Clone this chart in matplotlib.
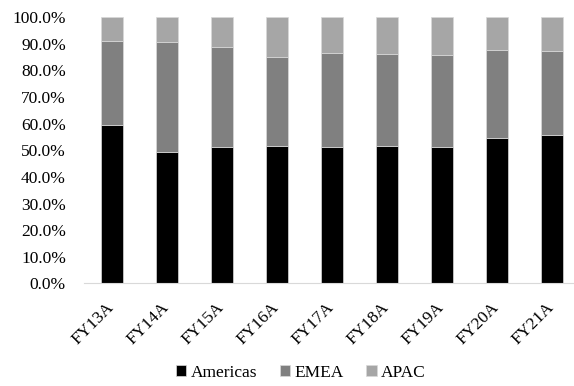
import matplotlib.pyplot as plt
import matplotlib.transforms as mtransforms
import numpy as np
from matplotlib.ticker import PercentFormatter

years = ['FY13A', 'FY14A', 'FY15A', 'FY16A', 'FY17A', 'FY18A', 'FY19A', 'FY20A', 'FY21A']
americas = [59.5, 49.5, 51.4, 51.6, 51.1, 51.6, 51.4, 54.7, 55.9]
emea = [31.6, 41.3, 37.3, 33.6, 35.4, 34.7, 34.4, 33.1, 31.5]
apac = [8.9, 9.2, 11.3, 14.8, 13.5, 13.7, 14.2, 12.2, 12.6]

plt.rcParams['font.family'] = 'Liberation Serif'
plt.rcParams['font.size'] = 12.5

fig = plt.figure(figsize=(5.74, 3.86), dpi=100)
ax = fig.add_axes([84 / 574, 1 - 283.3 / 386, 490 / 574, 266 / 386])

x = np.arange(len(years))
a = np.array(americas)
e = np.array(emea)
p = np.array(apac)
w = 0.4
ax.bar(x, a, w, color='#000000', label='Americas', edgecolor='#d9d9d9', linewidth=0.5)
ax.bar(x, e, w, bottom=a, color='#808080', label='EMEA', edgecolor='#d9d9d9', linewidth=0.5)
ax.bar(x, p, w, bottom=a + e, color='#a6a6a6', label='APAC', edgecolor='#d9d9d9', linewidth=0.5)

ax.set_xlim(-0.5, 8.4)
ax.set_ylim(0, 100)
ax.set_yticks(np.arange(0, 101, 10))
ax.yaxis.set_major_formatter(PercentFormatter(decimals=1))
ax.set_xticks(x)
ax.set_xticklabels(years, rotation=45, ha='right', rotation_mode='anchor')
ax.tick_params(length=0)
ax.tick_params(axis='y', pad=13)
ax.tick_params(axis='x', pad=12)
# nudge the slanted year labels a little to the left
shift = mtransforms.ScaledTranslation(-4 / 72, 0, fig.dpi_scale_trans)
for lbl in ax.get_xticklabels():
    lbl.set_transform(lbl.get_transform() + shift)
for s in ['top', 'right', 'left']:
    ax.spines[s].set_visible(False)
ax.spines['bottom'].set_color('#d9d9d9')

fig.legend(loc='center', bbox_to_anchor=(301 / 574, 1 - 373 / 386), ncol=3, frameon=False,
           handlelength=0.6, handleheight=0.6, handletextpad=0.25, columnspacing=1.3)

fig.savefig('out.png', dpi=100)
